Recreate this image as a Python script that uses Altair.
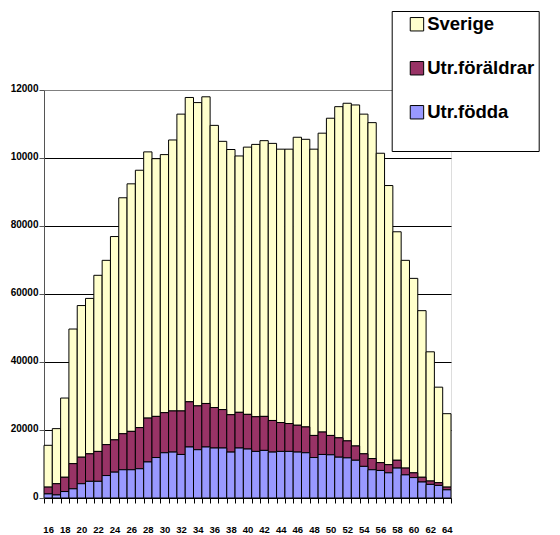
import altair as alt
import pandas as pd

ages = list(range(16, 65))
sverige = [12300, 16200, 23300, 39600, 44600, 45700, 51800, 54200, 59800, 69400,
           72800, 75700, 78300, 75800, 75900, 79700, 87300, 89500, 89200, 90200,
           83000, 78900, 78000, 75400, 78600, 80100, 81100, 81500, 80400, 80700,
           84700, 84600, 84200, 87900, 93300, 97400, 99300, 100300, 99900, 98800,
           91000, 82100, 67200, 61100, 57200, 49000, 38000, 28100, 21600]
foraldrar = [2000, 3300, 4200, 7400, 7800, 8100, 8800, 9100, 9500, 10600,
             11300, 12100, 12900, 12100, 11800, 12100, 12800, 13300, 12900, 12800,
             11900, 11300, 11000, 10500, 10200, 10200, 10000, 9300, 8500, 8200,
             7900, 7600, 6500, 6600, 5700, 5700, 5000, 4200, 3700, 3300,
             2300, 2400, 2300, 2000, 1400, 1400, 1000, 800, 800]
fodda = [1200, 900, 1900, 2700, 4200, 4900, 4900, 6600, 7600, 8300,
         8300, 8600, 10600, 11900, 13300, 13500, 12800, 15000, 14200, 15000,
         14700, 14700, 13500, 14700, 14400, 13700, 14000, 13500, 13700, 13700,
         13500, 13300, 11900, 12800, 12700, 12000, 11800, 11100, 9300, 8300,
         8100, 7400, 8800, 6800, 6000, 4700, 4000, 3700, 2400]

series = ["Sverige", "Utr.föräldrar", "Utr.födda"]
colors = ["#FFFFCC", "#993366", "#9999FF"]
stack_order = {"Utr.födda": 0, "Utr.föräldrar": 1, "Sverige": 2}

rows = []
for name, vals in zip(series, [sverige, foraldrar, fodda]):
    for a, v in zip(ages, vals):
        rows.append({"Ålder": a, "Grupp": name, "Antal": v, "ord": stack_order[name]})
df = pd.DataFrame(rows)

FONT = "Liberation Sans"

chart = alt.Chart(df).mark_bar(stroke="black", strokeWidth=1, opacity=1).encode(
    x=alt.X("Ålder:O",
            scale=alt.Scale(paddingInner=0, paddingOuter=0),
            axis=alt.Axis(title=None, labelAngle=0, tickBand="extent",
                          labelExpr="datum.value % 2 == 0 ? datum.label : ''",
                          labelOverlap=False, labelFont=FONT, labelFontWeight="bold",
                          labelFontSize=9.5, labelColor="black", tickColor="black",
                          tickSize=5, labelPadding=21, domainColor="black",
                          grid=False)),
    y=alt.Y("Antal:Q", stack="zero",
            scale=alt.Scale(domain=[0, 120000], nice=False),
            axis=alt.Axis(title=None, values=[0, 20000, 40000, 60000, 80000, 100000, 120000],
                          format="d",
                          labelExpr="datum.value >= 100000 ? slice(datum.label, 0, 5) : datum.label",
                          labelFont=FONT, labelFontWeight="bold", labelFontSize=10,
                          labelColor="black", labelBaseline="alphabetic", labelOffset=1,
                          tickColor="#555555", tickSize=5, labelPadding=1,
                          domainColor="#555555",
                          grid=True,
                          gridColor=alt.condition("datum.value >= 120000",
                                                  alt.value("#808080"), alt.value("black")),
                          gridWidth=1)),
    color=alt.Color("Grupp:N",
                    scale=alt.Scale(domain=series, range=colors),
                    legend=alt.Legend(orient="none", legendX=347.7, legendY=-79,
                                      direction="vertical", title=" ",
                                      titleOrient="bottom", titleFontSize=10,
                                      titlePadding=15,
                                      fillColor="white", strokeColor="black",
                                      padding=4, symbolType="square", symbolSize=180,
                                      symbolStrokeColor="black", symbolStrokeWidth=1,
                                      symbolOffset=12,
                                      labelFont=FONT, labelFontWeight="bold",
                                      labelFontSize=18.5, labelColor="black",
                                      labelOffset=1, rowPadding=25,
                                      labelLimit=300)),
    order=alt.Order("ord:Q", sort="ascending"),
).properties(
    width=407, height=408,
    autosize=alt.AutoSizeParams(type="none"),
    padding={"left": 36, "top": 82, "right": 101, "bottom": 37},
).configure_view(stroke="#808080", strokeWidth=1).configure(background="white")

chart.save("out.html", embed_options={"renderer": "svg", "actions": False})
